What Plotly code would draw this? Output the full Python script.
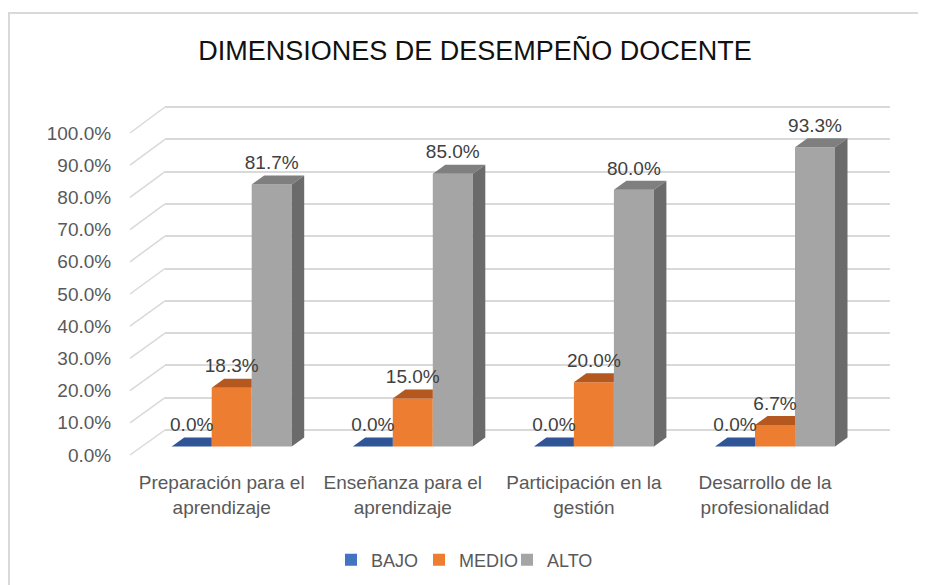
import plotly.graph_objects as go

# ---------------- data ----------------
categories = ["Preparación para el<br>aprendizaje", "Enseñanza para el<br>aprendizaje",
              "Participación en la<br>gestión", "Desarrollo de la<br>profesionalidad"]
series_names = ["BAJO", "MEDIO", "ALTO"]
bajo = [0.0, 0.0, 0.0, 0.0]
medio = [18.3, 15.0, 20.0, 6.7]
alto = [81.7, 85.0, 80.0, 93.3]
y_ticks = [0, 10, 20, 30, 40, 50, 60, 70, 80, 90, 100]
y_tick_labels = [f"{v:.1f}%" for v in y_ticks]

# ---------------- style ----------------
front_colors = ["#4472C4", "#ED7D31", "#A5A5A5"]
top_colors = ["#2F5597", "#B4581F", "#7F7F7F"]
side_colors = ["#264478", "#A04B16", "#6B6B6B"]
grid_color = "#D9D9D9"
text_color = "#595959"
FONT = "Liberation Sans, Arial, sans-serif"

# the page body has an 8px margin: work in window pixels, convert to figure pixels
OFF = 8
W, H = 926 - OFF, 585 - OFF


def fx(p):
    return p - OFF


def fy(p):
    return p - OFF


PL, PR, PT, PB = fx(130), fx(890), fy(100), fy(460)   # plot area (figure px)
PW, PH = PR - PL, PB - PT

# bar plane projection (window px)
X0, XS = 231.7, 181.1       # pixel of category 0 and pixels per category
Y0, YS = 446.5, 3.208       # pixel of value 0 and pixels per unit
# front plane (tick labels) and back wall (grid)
FY0, FYS = 455.0, 3.22
BY0, BYS = 430.0, 3.23
BACK_DX = 35                # px shift of back wall
DX_PX, DY_PX = 12.5, 9.0    # bar depth

bar_w = 40 / XS
dx = DX_PX / XS
dy = DY_PX / YS

x2_range = [(130 - X0) / XS, (890 - X0) / XS]
y2_range = [(Y0 - 460) / YS, (Y0 - 100) / YS]
y_back_range = [(BY0 - 460) / BYS, (BY0 - 100) / BYS]

fig = go.Figure()

# invisible trace to hold the back-wall grid subplot
fig.add_trace(go.Scatter(x=[0], y=[0], mode="none", showlegend=False,
                         hoverinfo="skip", xaxis="x", yaxis="y"))

series = [bajo, medio, alto]
n = len(series)
xs_idx = list(range(len(categories)))

for k, (name, vals) in enumerate(zip(series_names, series)):
    off = -1.5 * bar_w + k * bar_w
    fig.add_trace(go.Bar(
        x=xs_idx, y=vals, name=name, width=bar_w, offset=off,
        marker=dict(color=front_colors[k], line=dict(width=0)),
        xaxis="x2", yaxis="y2", hoverinfo="skip"))

for k, vals in enumerate(series):
    off = -1.5 * bar_w + k * bar_w
    nxt = series[k + 1] if k + 1 < n else None
    for i, v in enumerate(vals):
        xl = i + off
        xr = xl + bar_w
        hidden = nxt is not None and nxt[i] >= v + dy
        if hidden:
            tx = [xl, xr, xr, xl + dx, xl]
            ty = [v, v, v + dy, v + dy, v]
        else:
            tx = [xl, xr, xr + dx, xl + dx, xl]
            ty = [v, v, v + dy, v + dy, v]
        fig.add_trace(go.Scatter(x=tx, y=ty, fill="toself", fillcolor=top_colors[k],
                                 mode="lines", line=dict(width=0), showlegend=False,
                                 hoverinfo="skip", xaxis="x2", yaxis="y2"))
        if not hidden:
            sx = [xr, xr, xr + dx, xr + dx, xr]
            sy = [0, v, v + dy, dy, 0]
            fig.add_trace(go.Scatter(x=sx, y=sy, fill="toself", fillcolor=side_colors[k],
                                     mode="lines", line=dict(width=0), showlegend=False,
                                     hoverinfo="skip", xaxis="x2", yaxis="y2"))

# data labels
for k, vals in enumerate(series):
    off = -1.5 * bar_w + k * bar_w
    fig.add_trace(go.Scatter(
        x=[i + off + bar_w / 2 for i in xs_idx], y=[v + dy + 0.5 for v in vals],
        mode="text", text=[f"{v:.1f}%" for v in vals], textposition="top center",
        textfont=dict(family=FONT, size=19, color="#404040"),
        showlegend=False, hoverinfo="skip", xaxis="x2", yaxis="y2"))

# diagonals of the side wall (grid)
shapes = []
for v in y_ticks:
    y_front = (460 - (FY0 - FYS * v)) / PH
    y_back = (460 - (BY0 - BYS * v)) / PH
    shapes.append(dict(type="line", xref="paper", yref="paper", x0=0, x1=BACK_DX / PW,
                       y0=y_front, y1=y_back, line=dict(color=grid_color, width=1.5),
                       layer="below"))
# outer chart border
shapes.append(dict(type="rect", xref="paper", yref="paper",
                   x0=(9 - 130) / PW, x1=(926 + 20 - 130) / PW,
                   y0=(460 - 13) / PH, y1=(460 - 605) / PH,
                   line=dict(color=grid_color, width=2), fillcolor="rgba(0,0,0,0)",
                   layer="below"))

front_tickvals = [(Y0 - (FY0 - FYS * v)) / YS for v in y_ticks]

fig.update_layout(
    width=W, height=H,
    margin=dict(l=PL, r=W - PR, t=PT, b=H - PB, pad=0),
    paper_bgcolor="white", plot_bgcolor="rgba(0,0,0,0)",
    barmode="overlay",
    showlegend=True,
    title=dict(text="DIMENSIONES DE DESEMPEÑO DOCENTE", x=fx(475) / W, xref="container",
               xanchor="center", y=1 - fy(51) / H, yref="container", yanchor="middle",
               font=dict(family=FONT, size=27, color="#111111")),
    legend=dict(orientation="h", x=fx(463) / W, xref="container", xanchor="center",
                y=1 - fy(560) / H, yref="container", yanchor="middle",
                font=dict(family=FONT, size=18, color=text_color),
                entrywidth=43, entrywidthmode="pixels", itemwidth=30,
                traceorder="normal", bgcolor="rgba(0,0,0,0)"),
    xaxis=dict(domain=[BACK_DX / PW, 1], range=[0, 1], showgrid=False, zeroline=False,
               showticklabels=False, showline=False, fixedrange=True),
    yaxis=dict(domain=[0, 1], range=y_back_range, tickvals=y_ticks, showgrid=True,
               gridcolor=grid_color, gridwidth=1.5, zeroline=False, showticklabels=False,
               showline=False, fixedrange=True),
    xaxis2=dict(domain=[0, 1], range=x2_range, anchor="y2", tickmode="array",
                tickvals=[i - 10 / XS for i in xs_idx], ticktext=categories,
                showgrid=False, zeroline=False, showline=False,
                ticks="outside", ticklen=5, tickcolor="rgba(0,0,0,0)",
                tickfont=dict(family=FONT, size=19, color=text_color), fixedrange=True),
    yaxis2=dict(domain=[0, 1], range=y2_range, anchor="x2", tickmode="array",
                tickvals=front_tickvals, ticktext=y_tick_labels,
                showgrid=False, zeroline=False, showline=False,
                ticks="outside", ticklen=14, tickcolor="rgba(0,0,0,0)",
                tickfont=dict(family=FONT, size=19, color=text_color), fixedrange=True),
    shapes=shapes,
)

fig.write_html("out.html")
